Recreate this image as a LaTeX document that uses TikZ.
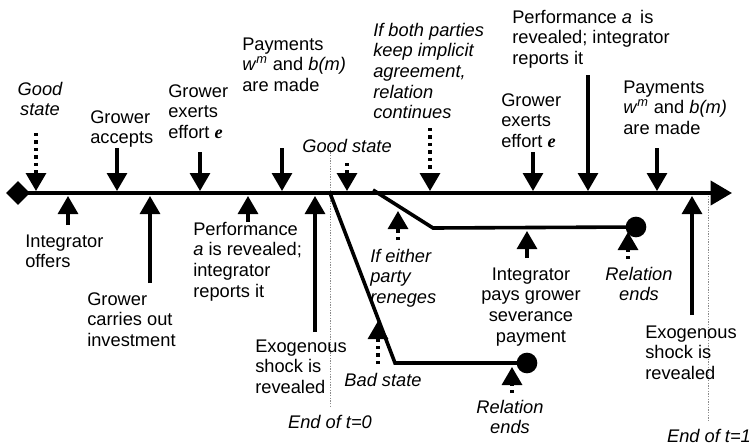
\documentclass[tikz,border=0pt]{standalone}
\usepackage{fontspec}
\setmainfont{Liberation Sans}
\newfontfamily\serifface{Liberation Serif}
\usetikzlibrary{arrows.meta,shapes.geometric}
\newcommand\labfont{\fontsize{13.7}{15.5}\selectfont}
\newcommand\ml[1]{\begin{tabular}[t]{@{}l@{}}#1\end{tabular}}
\newcommand\mc[1]{\begin{tabular}[t]{@{}c@{}}#1\end{tabular}}
\newcommand\effe{{\serifface\bfseries\itshape e}}
\newcommand\wm{\textit{w}\textsuperscript{\textit{m}}}
\begin{document}
\begin{tikzpicture}[x=0.75pt,y=-0.75pt,
  lbl/.style={inner sep=0pt, font=\labfont},
  ilbl/.style={inner sep=0pt, font=\labfont\itshape},
  shaft/.style={line width=2.3pt, -{Triangle[length=13.5pt,width=15pt]}},
  dotshaft/.style={line width=2.4pt, dash pattern=on 2.4pt off 3.2pt, -{Triangle[length=13.5pt,width=15pt]}},
  timeline/.style={line width=2.9pt},
  branch/.style={line width=2.7pt},
  period/.style={line width=0.6pt, black!45, dash pattern=on 0.9pt off 1.1pt},
  endball/.style={circle, fill, inner sep=0pt, minimum size=15.5pt},
]
\useasboundingbox (0,0) rectangle (750,447);

% ---- period boundaries
\coordinate (p0top) at (330,147); \coordinate (p0bot) at (330,408);
\coordinate (p1top) at (708,196); \coordinate (p1bot) at (708,422);
\draw[period] (p0top) -- (p0bot);
\draw[period] (p1top) -- (p1bot);

% ---- main time line
\node[diamond, fill, inner sep=0pt, minimum width=18pt, minimum height=18pt] (start) at (18,193) {};
\coordinate (tend) at (732,193);
\draw[timeline, -{Triangle[length=16pt,width=18pt]}] (start.center) -- (tend);

% ---- branches
\coordinate (bA) at (330,193); \coordinate (bAk) at (395,363);
\node[endball] (ballA) at (527,363) {};
\draw[branch] (bA) -- (bAk) -- (ballA.center);
\coordinate (bB) at (373,190); \coordinate (bBk) at (433,228);
\node[endball] (ballB) at (636,227) {};
\draw[branch] (bB) -- (bBk) -- (ballB.center);

% ---- labels above the line
\node[ilbl, anchor=base] (gs1) at (40,95) {\mc{Good\\state}};
\node[lbl, anchor=base west] (acc) at (90,123) {\ml{Grower\\accepts}};
\node[lbl, anchor=base west] (eff1) at (168,97) {\ml{Grower\\exerts\\effort \effe}};
\node[lbl, anchor=base west] (pay1) at (242,50) {\ml{Payments\\\wm{} and \textit{b(m)}\\are made}};
\node[ilbl, anchor=base] (gs2) at (347,152) {Good state};
\node[ilbl, anchor=base west] (keep) at (373,36) {\ml{If both parties\\keep implicit\\agreement,\\relation\\continues}};
\node[lbl, anchor=base west] (eff2) at (501,106) {\ml{Grower\\exerts\\effort \effe}};
\node[lbl, anchor=base west] (perf2) at (512,23) {\ml{Performance \textit{a}\, is\\revealed; integrator\\reports it}};
\node[lbl, anchor=base west] (pay2) at (623,93) {\ml{Payments\\\wm{} and \textit{b(m)}\\are made}};

% ---- labels below the line
\node[lbl, anchor=base west] (offer) at (25,247) {\ml{Integrator\\offers}};
\node[lbl, anchor=base west] (inv) at (87,305) {\ml{Grower\\carries out\\investment}};
\node[lbl, anchor=base west] (perf1) at (193,235) {\ml{Performance\\\textit{a} is revealed;\\integrator\\reports it}};
\node[lbl, anchor=base west] (exo1) at (255,352) {\ml{Exogenous\\shock is\\revealed}};
\node[ilbl, anchor=base west] (ren) at (370,262) {\ml{If either\\party\\reneges}};
\node[ilbl, anchor=base] (bad) at (383,386) {Bad state};
\node[ilbl, anchor=base] (relA) at (510,413) {\mc{Relation\\ends}};
\node[lbl, anchor=base] (sev) at (531,280) {\mc{Integrator\\pays grower\\severance\\payment}};
\node[ilbl, anchor=base] (relB) at (639,280) {\mc{Relation\\ends}};
\node[lbl, anchor=base west] (exo2) at (645,338) {\ml{Exogenous\\shock is\\revealed}};
\node[ilbl, anchor=base] (end0) at (330,428) {End of \textit{t}=0};
\node[ilbl, anchor=base] (end1) at (709,442) {End of \textit{t}=1};

% ---- downward arrows onto the line
\coordinate (gs1s) at (36,133);  \coordinate (gs1t) at (36,191);
\coordinate (accs) at (117,148); \coordinate (acct) at (117,191);
\coordinate (eff1s) at (200,152); \coordinate (eff1t) at (200,191);
\coordinate (pay1s) at (282,148); \coordinate (pay1t) at (282,191);
\coordinate (gs2s) at (347,163); \coordinate (gs2t) at (347,191);
\coordinate (keeps) at (430,128); \coordinate (keept) at (430,191);
\coordinate (eff2s) at (533,152); \coordinate (eff2t) at (533,191);
\coordinate (perf2s) at (588,75); \coordinate (perf2t) at (588,191);
\coordinate (pay2s) at (657,148); \coordinate (pay2t) at (657,191);
\draw[dotshaft] (gs1s) -- (gs1t);
\draw[shaft] (accs) -- (acct);
\draw[shaft] (eff1s) -- (eff1t);
\draw[shaft] (pay1s) -- (pay1t);
\draw[dotshaft] (gs2s) -- (gs2t);
\draw[dotshaft] (keeps) -- (keept);
\draw[shaft] (eff2s) -- (eff2t);
\draw[shaft] (perf2s) -- (perf2t);
\draw[shaft] (pay2s) -- (pay2t);

% ---- upward arrows
\coordinate (offs) at (68,225);  \coordinate (offt) at (68,196);
\coordinate (invs) at (150,283); \coordinate (invt) at (150,196);
\coordinate (perf1s) at (248,222); \coordinate (perf1t) at (248,196);
\coordinate (exo1s) at (315,332); \coordinate (exo1t) at (315,196);
\coordinate (rens) at (398,240); \coordinate (rent) at (398,211);
\coordinate (bads) at (378,364); \coordinate (badt) at (378,321);
\coordinate (relAs) at (512,393); \coordinate (relAt) at (512,367);
\coordinate (sevs) at (527,258); \coordinate (sevt) at (527,231);
\coordinate (relBs) at (628,259); \coordinate (relBt) at (628,232);
\coordinate (exo2s) at (692,315); \coordinate (exo2t) at (692,196);
\draw[shaft] (offs) -- (offt);
\draw[shaft] (invs) -- (invt);
\draw[shaft] (perf1s) -- (perf1t);
\draw[shaft] (exo1s) -- (exo1t);
\draw[dotshaft] (rens) -- (rent);
\draw[dotshaft] (bads) -- (badt);
\draw[dotshaft] (relAs) -- (relAt);
\draw[shaft] (sevs) -- (sevt);
\draw[dotshaft] (relBs) -- (relBt);
\draw[shaft] (exo2s) -- (exo2t);
\end{tikzpicture}
\end{document}
